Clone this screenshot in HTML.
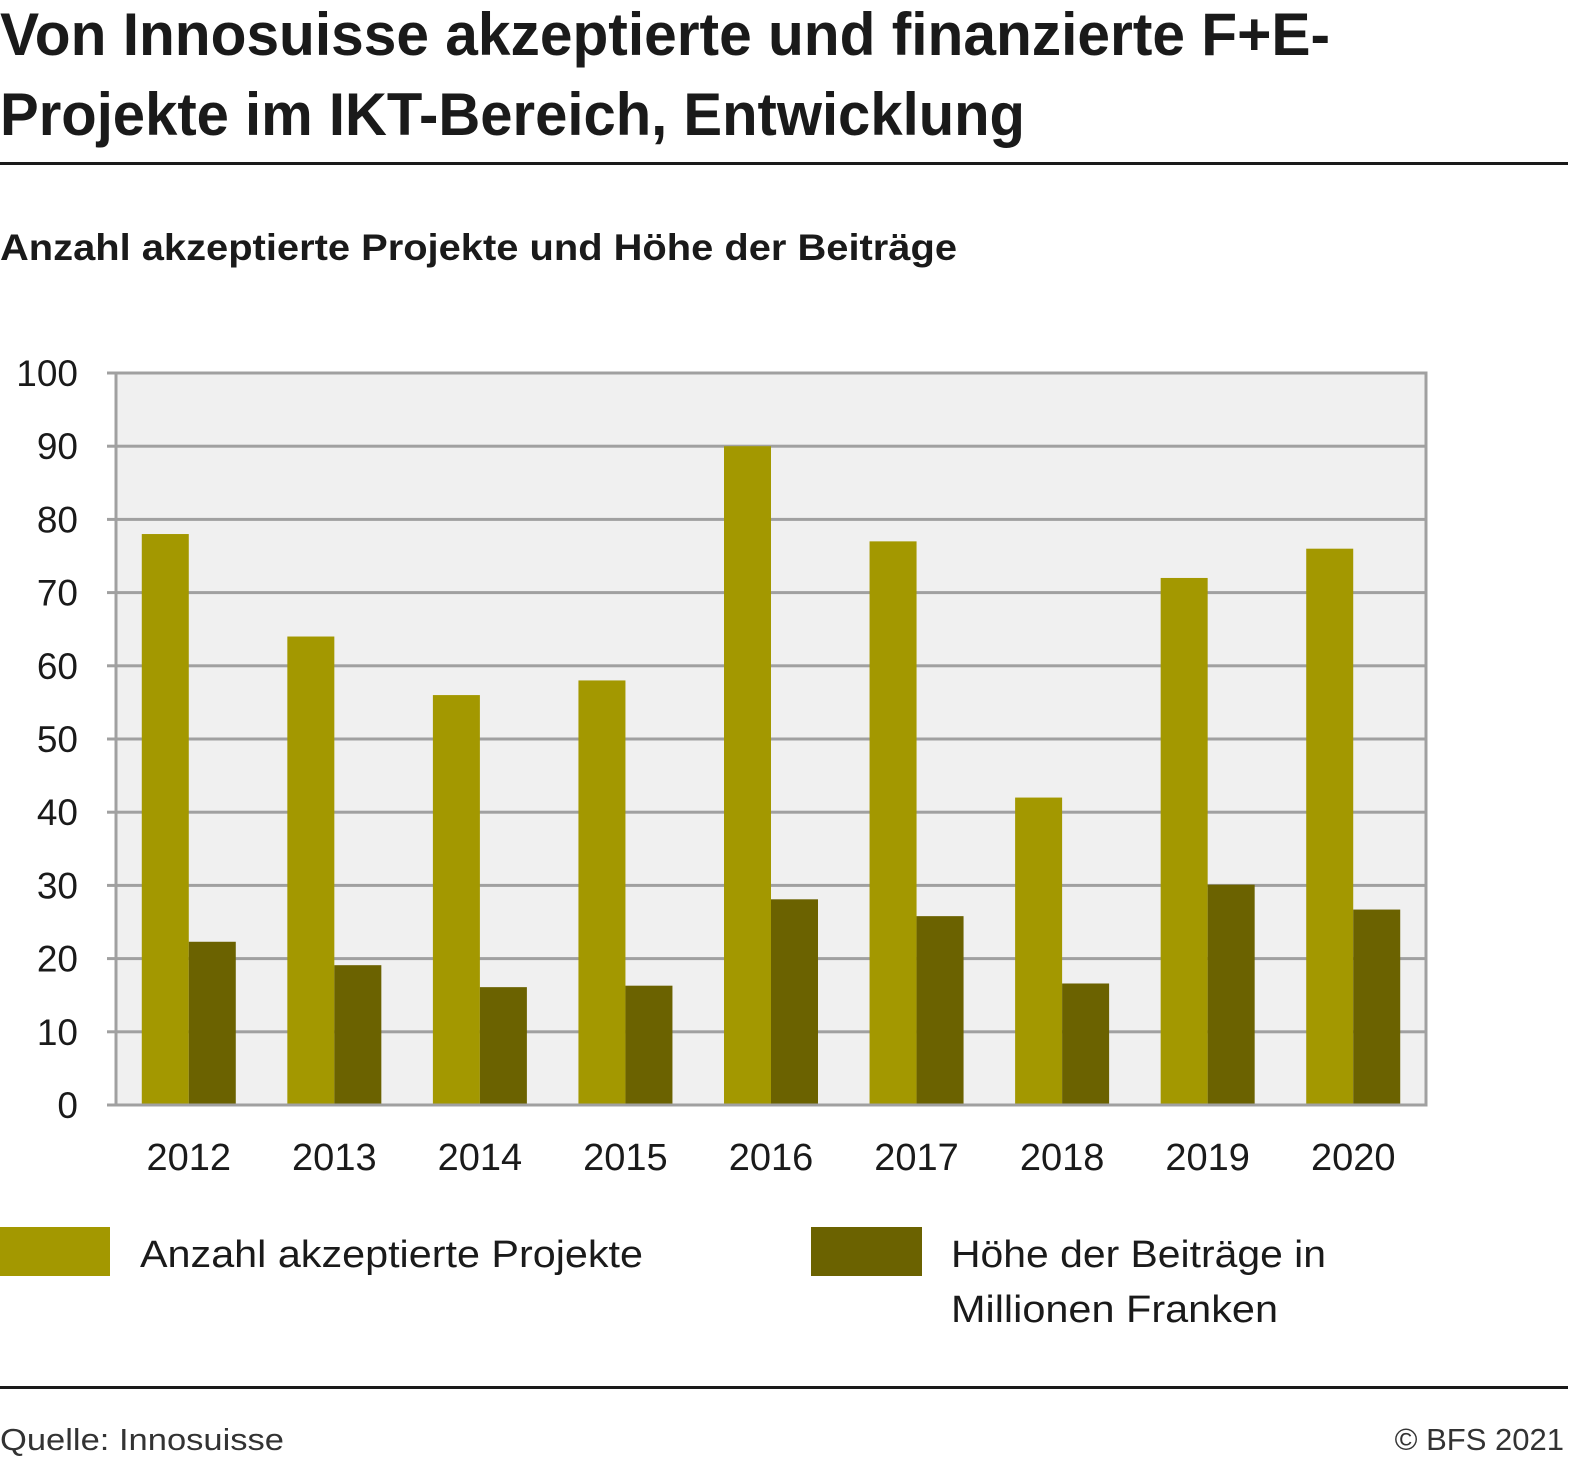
<!DOCTYPE html>
<html><head><meta charset="utf-8"><style>
html,body{margin:0;padding:0;background:#fff;}
svg{display:block;font-family:"Liberation Sans",sans-serif;}
</style></head><body>
<svg width="1572" height="1465" viewBox="0 0 1572 1465">
<text x="0" y="55" font-size="60" font-weight="bold" fill="#1a1a1a" textLength="1330" lengthAdjust="spacingAndGlyphs">Von Innosuisse akzeptierte und finanzierte F+E-</text>
<text x="0" y="135" font-size="60" font-weight="bold" fill="#1a1a1a" textLength="1025" lengthAdjust="spacingAndGlyphs">Projekte im IKT-Bereich, Entwicklung</text>
<rect x="0" y="162" width="1568" height="3" fill="#1a1a1a"/>
<text x="0" y="260" font-size="37" font-weight="bold" fill="#1a1a1a" textLength="957" lengthAdjust="spacingAndGlyphs">Anzahl akzeptierte Projekte und Höhe der Beiträge</text>
<g id="plot"></g>
<rect x="0" y="1227" width="110" height="49" fill="#a39800"/>
<text x="140" y="1267" font-size="38" fill="#1a1a1a" textLength="503" lengthAdjust="spacingAndGlyphs">Anzahl akzeptierte Projekte</text>
<rect x="811" y="1227" width="111" height="49" fill="#6b6200"/>
<text x="951" y="1267" font-size="38" fill="#1a1a1a" textLength="375" lengthAdjust="spacingAndGlyphs">Höhe der Beiträge in</text>
<text x="951" y="1322" font-size="38" fill="#1a1a1a" textLength="327" lengthAdjust="spacingAndGlyphs">Millionen Franken</text>
<rect x="0" y="1386" width="1568" height="3" fill="#1a1a1a"/>
<text x="0" y="1450" font-size="31" fill="#333" textLength="284" lengthAdjust="spacingAndGlyphs">Quelle: Innosuisse</text>
<text x="1564" y="1450" font-size="31" fill="#333" text-anchor="end">© BFS 2021</text>
</svg>
<script>
const years=["2012","2013","2014","2015","2016","2017","2018","2019","2020"];
const projects=[78,64,56,58,90,77,42,72,76];
const contributions=[22.3,19.1,16.1,16.3,28.1,25.8,16.6,30.1,26.7];
const yTicks=[0,10,20,30,40,50,60,70,80,90,100];
const NS="http://www.w3.org/2000/svg";
const g=document.getElementById('plot');
const L=116,R=1426,T=373,B=1105,yMax=100;
const y=v=>B-(v/yMax)*(B-T);
const band=(R-L)/years.length;
const bw=47;
function mk(t,a){const e=document.createElementNS(NS,t);for(const k in a)e.setAttribute(k,a[k]);g.appendChild(e);return e;}
mk('rect',{x:L,y:T,width:R-L,height:B-T,fill:'#f0f0f0'});
yTicks.forEach(v=>{
  const ln=mk('rect',{x:107,y:y(v)-1.5,width:R-107+1,height:3,fill:'#a0a0a0'});
  
  
  const t=mk('text',{x:78,y:y(v)+13,'font-size':37,fill:'#1a1a1a','text-anchor':'end'});
  t.textContent=v;
  
  
});
mk('rect',{x:L-1.5,y:T-1.5,width:3,height:B-T+3,fill:'#a0a0a0'});
mk('rect',{x:R-1.5,y:T-1.5,width:3,height:B-T+3,fill:'#a0a0a0'});
years.forEach((yr,i)=>{
  const c=L+band*(i+0.5);
  const b1=mk('rect',{x:c-bw,y:y(projects[i]),width:bw,height:B-y(projects[i]),fill:'#a39800'});
  
  
  const b2=mk('rect',{x:c,y:y(contributions[i]),width:bw,height:B-y(contributions[i]),fill:'#6b6200'});
  
  
  const t=mk('text',{x:c,y:1170,'font-size':38,fill:'#1a1a1a','text-anchor':'middle'});
  t.textContent=yr;
  
  
});
mk('rect',{x:107,y:B-1.5,width:R-107+1,height:3,fill:'#a0a0a0'});
</script>
</body></html>
